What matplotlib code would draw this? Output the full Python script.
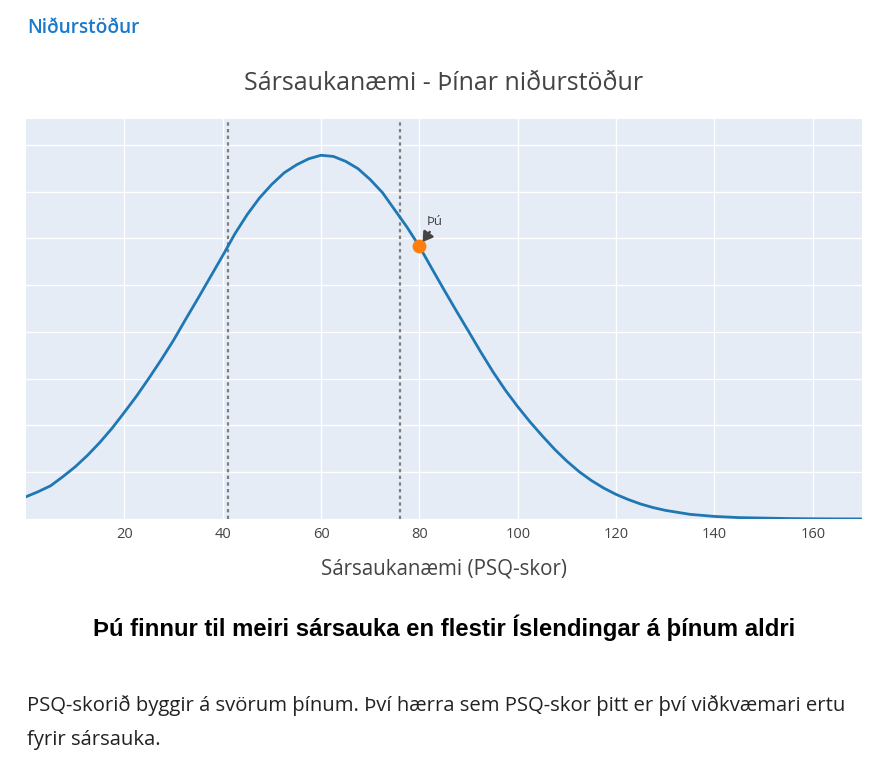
import numpy as np
import matplotlib
matplotlib.use("Agg")
import matplotlib.pyplot as plt

# values (density of PSQ score)
psq_x = [0, 2.5, 5, 7.5, 10, 12.5, 15, 17.5, 20, 22.5, 25, 27.5, 30, 32.5, 35,
         37.5, 40, 42.5, 45, 47.5, 50, 52.5, 55, 57.5, 60, 62.5, 65, 67.5, 70,
         72.5, 75, 77.5, 80, 82.5, 85, 87.5, 90, 92.5, 95, 97.5, 100, 102.5,
         105, 107.5, 110, 112.5, 115, 117.5, 120, 122.5, 125, 127.5, 130, 135,
         140, 145, 150, 155, 160, 165, 170]
density = [0.00095, 0.00117, 0.00142, 0.00181, 0.00223, 0.00272, 0.00327,
           0.00388, 0.00456, 0.00526, 0.00602, 0.00681, 0.00764, 0.00855,
           0.00944, 0.01035, 0.01126, 0.01220, 0.01302, 0.01373, 0.01431,
           0.01480, 0.01514, 0.01540, 0.01555, 0.01550, 0.01529, 0.01498,
           0.01451, 0.01395, 0.01321, 0.01247, 0.01165, 0.01072, 0.00980,
           0.00890, 0.00802, 0.00713, 0.00628, 0.00550, 0.00480, 0.00415,
           0.00355, 0.00298, 0.00247, 0.00202, 0.00164, 0.00132, 0.00105,
           0.00083, 0.00064, 0.00049, 0.00037, 0.00020, 0.00011, 0.00006,
           0.00004, 0.00002, 0.00001, 0.000005, 0.000003]
band_lines = [41, 76]
your_score = 80
your_density = 0.01165
xticks = [20, 40, 60, 80, 100, 120, 140, 160]
yticks = [0, 0.002, 0.004, 0.006, 0.008, 0.010, 0.012, 0.014, 0.016]

title = "Sársaukanæmi - Þínar niðurstöður"
xlabel = "Sársaukanæmi (PSQ-skor)"
header = "Niðurstöður"
verdict = "Þú finnur til meiri sársauka en flestir Íslendingar á þínum aldri"
para1 = "PSQ-skorið byggir á svörum þínum. Því hærra sem PSQ-skor þitt er því viðkvæmari ertu"
para2 = "fyrir sársauka."

fig = plt.figure(figsize=(8.88, 7.66), dpi=100)
ax = fig.add_axes([26/888, 1 - 519/766, 836/888, 400/766])
ax.set_facecolor("#E5ECF6")
for s in ax.spines.values():
    s.set_visible(False)

ax.plot(psq_x, density, color="#1f77b4", lw=2, zorder=3)
for b in band_lines:
    ax.axvline(b, color="#7f7f7f", lw=1.6, ls=(0, (1.5, 1.5)), zorder=2)
ax.scatter([your_score], [your_density], s=100, color="#ff7f0e", zorder=4,
           linewidths=0)
# arrow + label drawn separately so the arrow keeps a visible shaft
ax.annotate("", xy=(your_score, your_density), xytext=(your_score + 2.1, your_density + 0.00062),
            arrowprops=dict(arrowstyle="-|>,head_length=0.55,head_width=0.35",
                            color="#444444", lw=1.8, shrinkA=0, shrinkB=4), zorder=5)
ax.text(your_score + 1.4, your_density + 0.0008, "Þú", fontsize=9.5, color="#444444",
        family="Open Sans", ha="left", va="bottom")

ax.set_xlim(0, 170)
ax.set_ylim(0, 0.0171)
ax.set_xticks(xticks)
ax.set_yticks(yticks)
ax.set_yticklabels([])
ax.grid(True, color="white", lw=1.0, zorder=1)
ax.set_axisbelow(True)
ax.tick_params(axis="both", length=0, colors="#444444", labelsize=10.5, pad=6)
for lab in ax.get_xticklabels():
    lab.set_family("Open Sans")

ax.set_xlabel(xlabel, fontsize=14.8, color="#444444", family="Open Sans", labelpad=12)

fig.text(444/888, 1 - 83/766, title, ha="center", va="center", fontsize=18,
         color="#444444", family="Open Sans")
fig.text(27/888, 1 - 28/766, header, ha="left", va="center", fontsize=13.7,
         color="#1a7acb", family="Open Sans", weight="semibold")
fig.text(444/888, 1 - 628/766, verdict, ha="center", va="center", fontsize=17.2,
         color="black", family="Liberation Sans", weight="bold")
fig.text(27/888, 1 - 706/766, para1, ha="left", va="center", fontsize=14.6,
         color="#222222", family="Open Sans")
fig.text(27/888, 1 - 740/766, para2, ha="left", va="center", fontsize=14.6,
         color="#222222", family="Open Sans")

fig.savefig("out.png", dpi=100)
